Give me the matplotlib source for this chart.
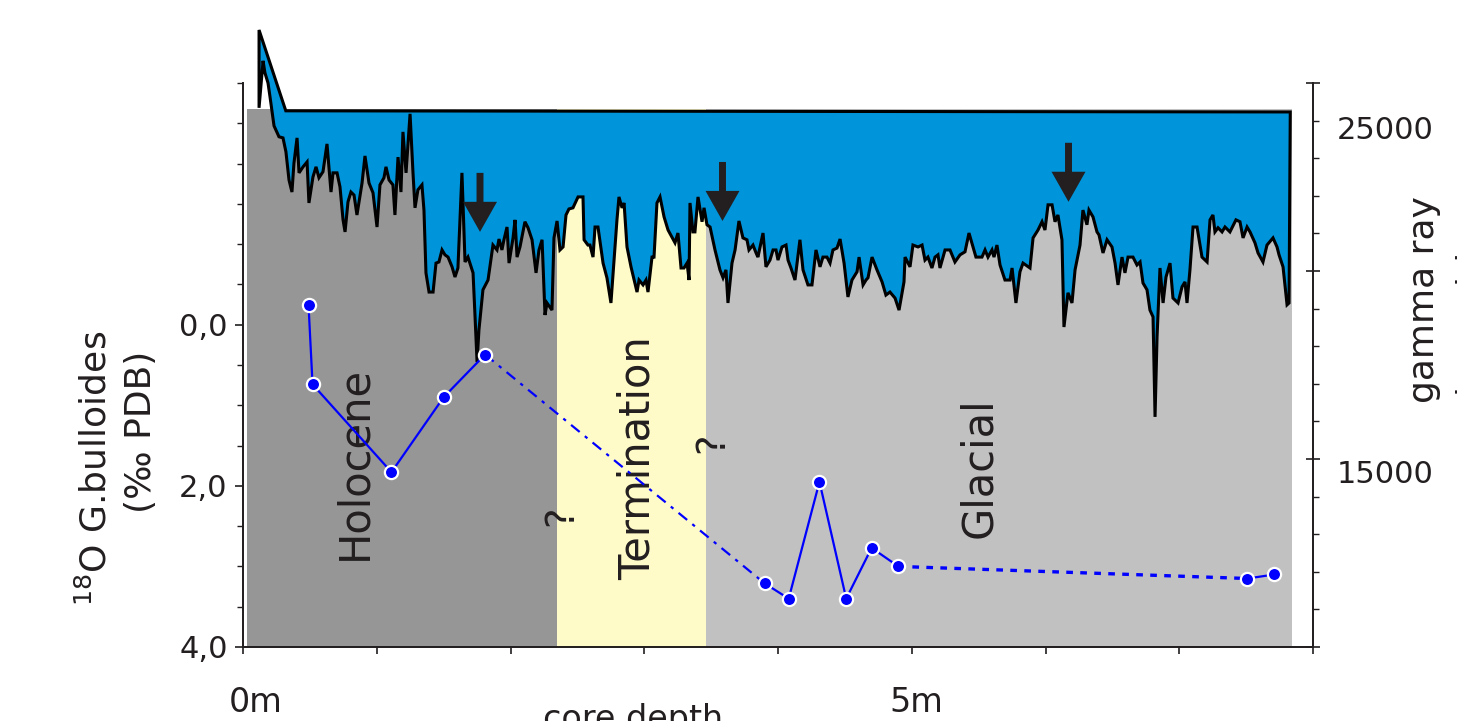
import numpy as np
import matplotlib
matplotlib.use('Agg')
import matplotlib.pyplot as plt
from matplotlib.ticker import FixedLocator, MultipleLocator
import matplotlib.transforms as mtransforms

# d18O G.bulloides samples (depth in m, permil PDB)
iso_depth = [0.49, 0.52, 1.11, 1.50, 1.81, 3.90, 4.08, 4.31, 4.51, 4.70, 4.90, 7.51, 7.71]
iso_value = [-0.24, 0.74, 1.83, 0.90, 0.37, 3.21, 3.40, 1.95, 3.40, 2.77, 3.00, 3.15, 3.10]

# gamma ray log (depth in m, counts)
gamma_depth = [0.120, 0.150, 0.164, 0.187, 0.202, 0.232, 0.269, 0.299, 0.321, 0.344, 0.366, 0.381,
               0.404, 0.419, 0.449, 0.479, 0.493, 0.523, 0.546, 0.568, 0.598, 0.628, 0.658, 0.673,
               0.703, 0.725, 0.748, 0.763, 0.785, 0.807, 0.830, 0.852, 0.890, 0.912, 0.942, 0.972,
               1.002, 1.024, 1.054, 1.069, 1.092, 1.121, 1.136, 1.159, 1.181, 1.196, 1.219, 1.249,
               1.271, 1.286, 1.308, 1.338, 1.353, 1.368, 1.391, 1.421, 1.443, 1.465, 1.488, 1.510,
               1.533, 1.563, 1.585, 1.607, 1.637, 1.660, 1.682, 1.720, 1.735, 1.750, 1.764, 1.794,
               1.832, 1.869, 1.899, 1.914, 1.936, 1.951, 1.974, 1.989, 2.019, 2.034, 2.049, 2.071,
               2.108, 2.131, 2.161, 2.191, 2.213, 2.236, 2.258, 2.273, 2.310, 2.325, 2.348, 2.370,
               2.393, 2.415, 2.437, 2.467, 2.505, 2.542, 2.550, 2.579, 2.594, 2.617, 2.632, 2.654,
               2.692, 2.721, 2.751, 2.796, 2.811, 2.834, 2.849, 2.871, 2.901, 2.946, 2.961, 2.991,
               3.013, 3.028, 3.058, 3.073, 3.095, 3.118, 3.148, 3.178, 3.230, 3.252, 3.275, 3.297,
               3.320, 3.335, 3.342, 3.364, 3.379, 3.402, 3.432, 3.447, 3.469, 3.492, 3.529, 3.566,
               3.589, 3.611, 3.626, 3.656, 3.679, 3.708, 3.738, 3.768, 3.783, 3.813, 3.836, 3.850,
               3.888, 3.910, 3.940, 3.963, 3.985, 4.000, 4.030, 4.060, 4.075, 4.097, 4.127, 4.164,
               4.187, 4.224, 4.254, 4.284, 4.314, 4.336, 4.366, 4.389, 4.411, 4.441, 4.464, 4.494,
               4.523, 4.553, 4.591, 4.606, 4.636, 4.658, 4.673, 4.703, 4.740, 4.778, 4.807, 4.837,
               4.875, 4.905, 4.942, 4.950, 4.987, 5.009, 5.047, 5.077, 5.099, 5.121, 5.151, 5.174,
               5.196, 5.211, 5.249, 5.286, 5.323, 5.361, 5.398, 5.428, 5.458, 5.480, 5.525, 5.548,
               5.570, 5.600, 5.615, 5.637, 5.660, 5.697, 5.735, 5.750, 5.779, 5.809, 5.832, 5.884,
               5.907, 5.944, 5.974, 5.996, 6.019, 6.049, 6.071, 6.093, 6.123, 6.138, 6.168, 6.198,
               6.221, 6.258, 6.280, 6.310, 6.325, 6.355, 6.385, 6.400, 6.430, 6.460, 6.497, 6.520,
               6.542, 6.572, 6.594, 6.617, 6.654, 6.684, 6.707, 6.729, 6.759, 6.781, 6.804, 6.819,
               6.834, 6.856, 6.879, 6.901, 6.931, 6.953, 6.991, 7.021, 7.043, 7.058, 7.080, 7.103,
               7.133, 7.170, 7.208, 7.230, 7.252, 7.267, 7.290, 7.320, 7.342, 7.379, 7.424, 7.454,
               7.477, 7.507, 7.529, 7.566, 7.589, 7.626, 7.656, 7.701, 7.731, 7.746, 7.776, 7.806,
               7.821]
gamma_counts = [24340, 25590, 25270, 25000, 24630, 23860, 23570, 23540, 23170, 22420, 22100, 22870,
                23540, 22610, 22770, 22900, 21810, 22500, 22770, 22480, 22640, 23380, 22100, 22610,
                22610, 22240, 21360, 21040, 21840, 22100, 22020, 21490, 22340, 23060, 22340, 22080,
                21170, 22290, 22480, 22770, 22420, 22290, 21490, 23030, 22100, 23700, 22610, 24180,
                22610, 21680, 22160, 22290, 21620, 19950, 19440, 19440, 20210, 20240, 20560, 20430,
                20370, 20110, 19840, 20080, 22610, 20240, 20370, 19950, 18780, 17580, 18430, 19500,
                19760, 20690, 20560, 20850, 20560, 20830, 21170, 20210, 20880, 21360, 20370, 20640,
                21310, 21150, 20830, 19950, 20560, 20830, 18830, 19150, 18960, 20880, 21330, 20560,
                20640, 21490, 21650, 21680, 21970, 21970, 20830, 20690, 20690, 20370, 21170, 21170,
                20210, 19820, 19150, 21360, 21970, 21680, 21810, 20640, 20110, 19440, 19760, 19630,
                19760, 19440, 20370, 20370, 21810, 21970, 21440, 21090, 20750, 21010, 20080, 20080,
                20210, 19760, 21810, 21040, 21040, 21970, 21310, 21680, 21230, 21170, 20560, 20030,
                19820, 20030, 19150, 20210, 20560, 21330, 20880, 20830, 20560, 20690, 20480, 20370,
                21010, 20110, 20290, 20560, 20560, 20290, 20640, 20690, 20290, 20080, 19760, 20830,
                20030, 19630, 19630, 20560, 20110, 20370, 20370, 20210, 20560, 20610, 20850, 20210,
                19310, 19760, 19980, 20370, 19630, 19760, 19820, 20370, 20030, 19710, 19360, 19440,
                19280, 18960, 19710, 20370, 20110, 20690, 20640, 20690, 20290, 20370, 20080, 20370,
                20430, 20080, 20560, 20560, 20240, 20430, 20510, 21010, 20640, 20370, 20370, 20560,
                20370, 20560, 20370, 20690, 20160, 19760, 19760, 20080, 19150, 19980, 20210, 20080,
                20880, 21090, 21310, 21090, 21760, 21760, 21310, 21490, 20830, 18510, 19420, 19150,
                20030, 20690, 21620, 21230, 21620, 21440, 21040, 20960, 20480, 20830, 20640, 20210,
                19630, 20370, 19950, 20370, 20370, 20160, 20240, 19680, 19500, 18960, 18780, 16120,
                18250, 20080, 19150, 19840, 20210, 19280, 19150, 19580, 19710, 19150, 20030, 21170,
                21170, 20370, 20240, 21360, 21490, 21040, 21150, 21040, 21170, 21040, 21360, 21310,
                20880, 21170, 21040, 20750, 20480, 20240, 20690, 20880, 20640, 20430, 20110, 19100,
                19150]

# upper envelope of the blue fill
top_depth = [0.12, 0.32, 7.83]
top_counts = [26410, 24260, 24230]

# stratigraphic zones
zone_names = ['Holocene', 'Termination', 'Glacial']
zone_start = [0.03, 2.35, 3.46]
zone_end = [2.35, 3.46, 7.84]
zone_top = 24310
zone_colors = ['#979696', '#fffbc8', '#c1c1c1']
zone_label_pos = [(0.83, 1.72), (2.95, 1.65), (5.50, 1.77)]

# arrows (depth, top counts, tip counts)
arrow_depth = [1.772, 3.585, 6.172]
arrow_top = [22610, 22900, 23410]
arrow_tip = [21040, 21330, 21840]

txt_col = '#231f20'
blue_fill = '#0095da'
iso_col = '#0000ff'

plt.rcParams['font.family'] = ['DejaVu Sans']

fig = plt.figure(figsize=(14.57, 7.21), dpi=100)
ax = fig.add_axes([243 / 1457, 1 - 647 / 721, 1070 / 1457, 564 / 721])
ax2 = ax.twinx()
ax.set_zorder(ax2.get_zorder() + 1)
ax.patch.set_visible(False)

# zones and gamma log on the right axis
for s, e, c in zip(zone_start, zone_end, zone_colors):
    ax2.fill_between([s, e], 10000, zone_top, color=c, lw=0, zorder=1)

poly_x = np.concatenate([gamma_depth, top_depth[::-1]])
poly_y = np.concatenate([gamma_counts, top_counts[::-1]])
ax2.fill(poly_x, poly_y, facecolor=blue_fill, edgecolor='black', lw=2.2, joinstyle='miter',
         zorder=2, clip_on=False)

for xd, yt, yb in zip(arrow_depth, arrow_top, arrow_tip):
    ax2.arrow(xd, yt, 0, yb - yt, width=0.052, head_width=0.254, head_length=800,
              length_includes_head=True, color=txt_col, lw=0, zorder=3)

ax2.set_ylim(10000, 25000)
ax2.yaxis.set_major_locator(FixedLocator([10000, 15000, 20000, 25000]))
ax2.yaxis.set_minor_locator(MultipleLocator(1000))
ax2.tick_params(axis='y', which='major', direction='inout', length=10, width=1.2, color=txt_col, labelright=False)
ax2.tick_params(axis='y', which='minor', direction='out', length=4, width=1.0, color=txt_col)
trans = mtransforms.blended_transform_factory(ax2.transAxes, ax2.transData)
ax2.text(1.0224, 23750, '25000', transform=trans, ha='left', va='center', fontsize=22, color=txt_col)
ax2.text(1.0224, 14600, '15000', transform=trans, ha='left', va='center', fontsize=22, color=txt_col)

# zone labels and question marks
for name, (xd, yv) in zip(zone_names, zone_label_pos):
    ax.text(xd, yv, name, rotation=90, ha='center', va='center', fontsize=30, color=txt_col, zorder=1)
ax.text(2.378, 2.37, '?', rotation=90, ha='center', va='center', fontsize=28, color=txt_col, zorder=1)
ax.text(3.507, 1.46, '?', rotation=90, ha='center', va='center', fontsize=28, color=txt_col, zorder=1)

# d18O record
d = np.array(iso_depth)
v = np.array(iso_value)
for a, b in [(0, 5), (5, 11), (11, 13)]:
    ax.plot(d[a:b], v[a:b], color=iso_col, lw=1.6, zorder=3)
ax.plot(d[4:6], v[4:6], color=iso_col, lw=1.6, ls=(0, (5, 3, 1.5, 3)), zorder=3)
ax.plot(d[10:12], v[10:12], color=iso_col, lw=2.4, ls=(0, (2, 2.2)), zorder=3)
ax.plot(d, v, 'o', ms=9.5, mfc=iso_col, mec='white', mew=1.6, zorder=4)

ax.set_xlim(0, 8)
ax.set_ylim(4, -3)
ax.yaxis.set_major_locator(FixedLocator([0, 2, 4]))
ax.set_yticklabels(['0,0', '2,0', '4,0'])
ax.yaxis.set_minor_locator(MultipleLocator(0.5))
ax.tick_params(axis='y', which='major', direction='out', length=6, width=1.2, color=txt_col,
               labelsize=22, labelcolor=txt_col, pad=5)
ax.tick_params(axis='y', which='minor', direction='out', length=4, width=1.0, color=txt_col)

ax.xaxis.set_major_locator(FixedLocator(range(9)))
ax.set_xticklabels(['0m', '', '', '', '', '5m', '', '', ''])
ax.tick_params(axis='x', direction='out', length=5, width=1.2, color=txt_col,
               labelsize=24, labelcolor=txt_col, pad=23)
xlabel_shift = [13, 0, 0, 0, 0, 5, 0, 0, 0]
for lab, sh in zip(ax.get_xticklabels(), xlabel_shift):
    lab.set_transform(lab.get_transform() + mtransforms.ScaledTranslation(sh / 100, 0, fig.dpi_scale_trans))

for a in (ax, ax2):
    a.spines['top'].set_visible(False)
    for s in ('left', 'right', 'bottom'):
        a.spines[s].set_color(txt_col)
        a.spines[s].set_linewidth(1.3)

fig.text(0.4345, 1 - 703 / 721, 'core depth', ha='center', va='top', fontsize=24, color=txt_col)
fig.text(95 / 1457, 1 - 468 / 721, '$^{18}$O G.bulloides', rotation=90, ha='center', va='center',
         fontsize=26, color=txt_col)
fig.text(141 / 1457, 1 - 432 / 721, '(‰ PDB)', rotation=90, ha='center', va='center',
         fontsize=26, color=txt_col)
fig.text(1424 / 1457, 1 - 300 / 721, 'gamma ray', rotation=90, ha='center', va='center',
         fontsize=26, color=txt_col)
fig.text(1469 / 1457, 1 - 300 / 721, 'intensities', rotation=90, ha='center', va='center',
         fontsize=26, color=txt_col)

fig.savefig('out.png', dpi=100)
